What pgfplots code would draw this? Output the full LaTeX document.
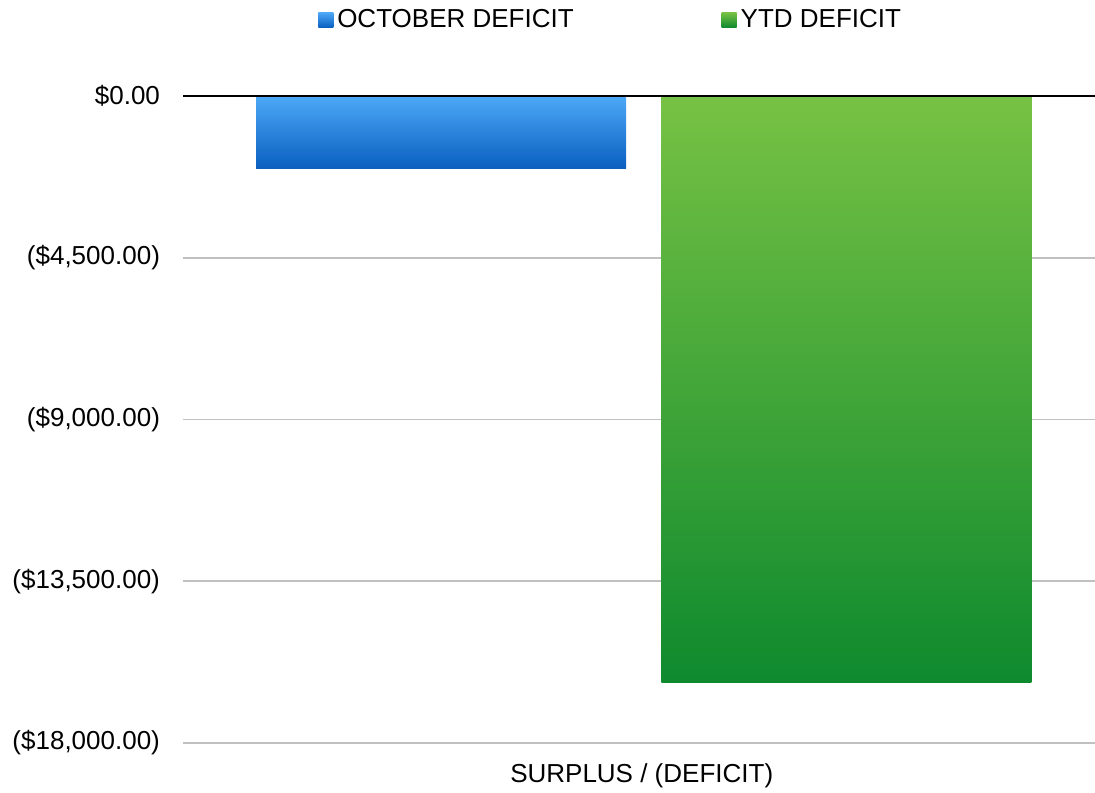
\documentclass[border=0pt]{standalone}
\usepackage{pgfplots}
\pgfplotsset{compat=1.18}
\usepackage{fontspec}
\setmainfont{Liberation Sans}
\definecolor{bluetop}{HTML}{4DA8F7}
\definecolor{bluebot}{HTML}{0A5FBF}
\definecolor{greentop}{HTML}{77C244}
\definecolor{greenbot}{HTML}{0E8A2E}
\definecolor{gridgray}{HTML}{C0C0C0}
\newcommand{\lblfont}{\fontsize{13}{15.6}\selectfont}
\begin{document}
\lblfont
\begin{tikzpicture}
\useasboundingbox (-91.5pt,-24.5pt) rectangle (456pt,371.5pt);
\begin{axis}[
  at={(0,0)}, anchor=south west,
  scale only axis,
  width=456pt, height=323.5pt,
  xmin=0, xmax=1,
  ymin=-18000, ymax=0,
  axis line style={draw=none},
  scaled y ticks=false,
  ytick={-18000,-13500,-9000,-4500},
  yticklabels={(\$18,000.00),(\$13,500.00),(\$9,000.00),(\$4,500.00)},
  extra y ticks={0},
  extra y tick labels={\$0.00},
  extra y tick style={grid style={draw=none}},
  ymajorgrids,
  grid style={gridgray, line width=0.9pt},
  major tick length=0pt,
  yticklabel style={font=\lblfont, xshift=-7pt},
  xtick={0.503},
  xticklabels={SURPLUS / (DEFICIT)},
  xticklabel style={font=\lblfont, yshift=-6pt},
  ybar, bar width=185pt,
  legend columns=2,
  legend style={draw=none, at={(axis description cs:0.47,1.1175)}, anchor=center,
    font=\lblfont,
    /tikz/every even column/.append style={column sep=72pt}},
  legend image code/.code={\path[#1, draw=none] (0pt,-3.7pt) rectangle (7.5pt,3.7pt);},
  legend cell align=left,
]
\addplot[draw=none, bar shift=0pt, top color=bluetop, bottom color=bluebot] coordinates {(0.2829,-2030)};
\addlegendentry{OCTOBER DEFICIT}
\addplot[draw=none, bar shift=0pt, top color=greentop, bottom color=greenbot] coordinates {(0.7275,-16330)};
\addlegendentry{YTD DEFICIT}
\draw[black, line width=0.9pt] (axis cs:0,0) -- (axis cs:1,0);
\end{axis}
\end{tikzpicture}
\end{document}
